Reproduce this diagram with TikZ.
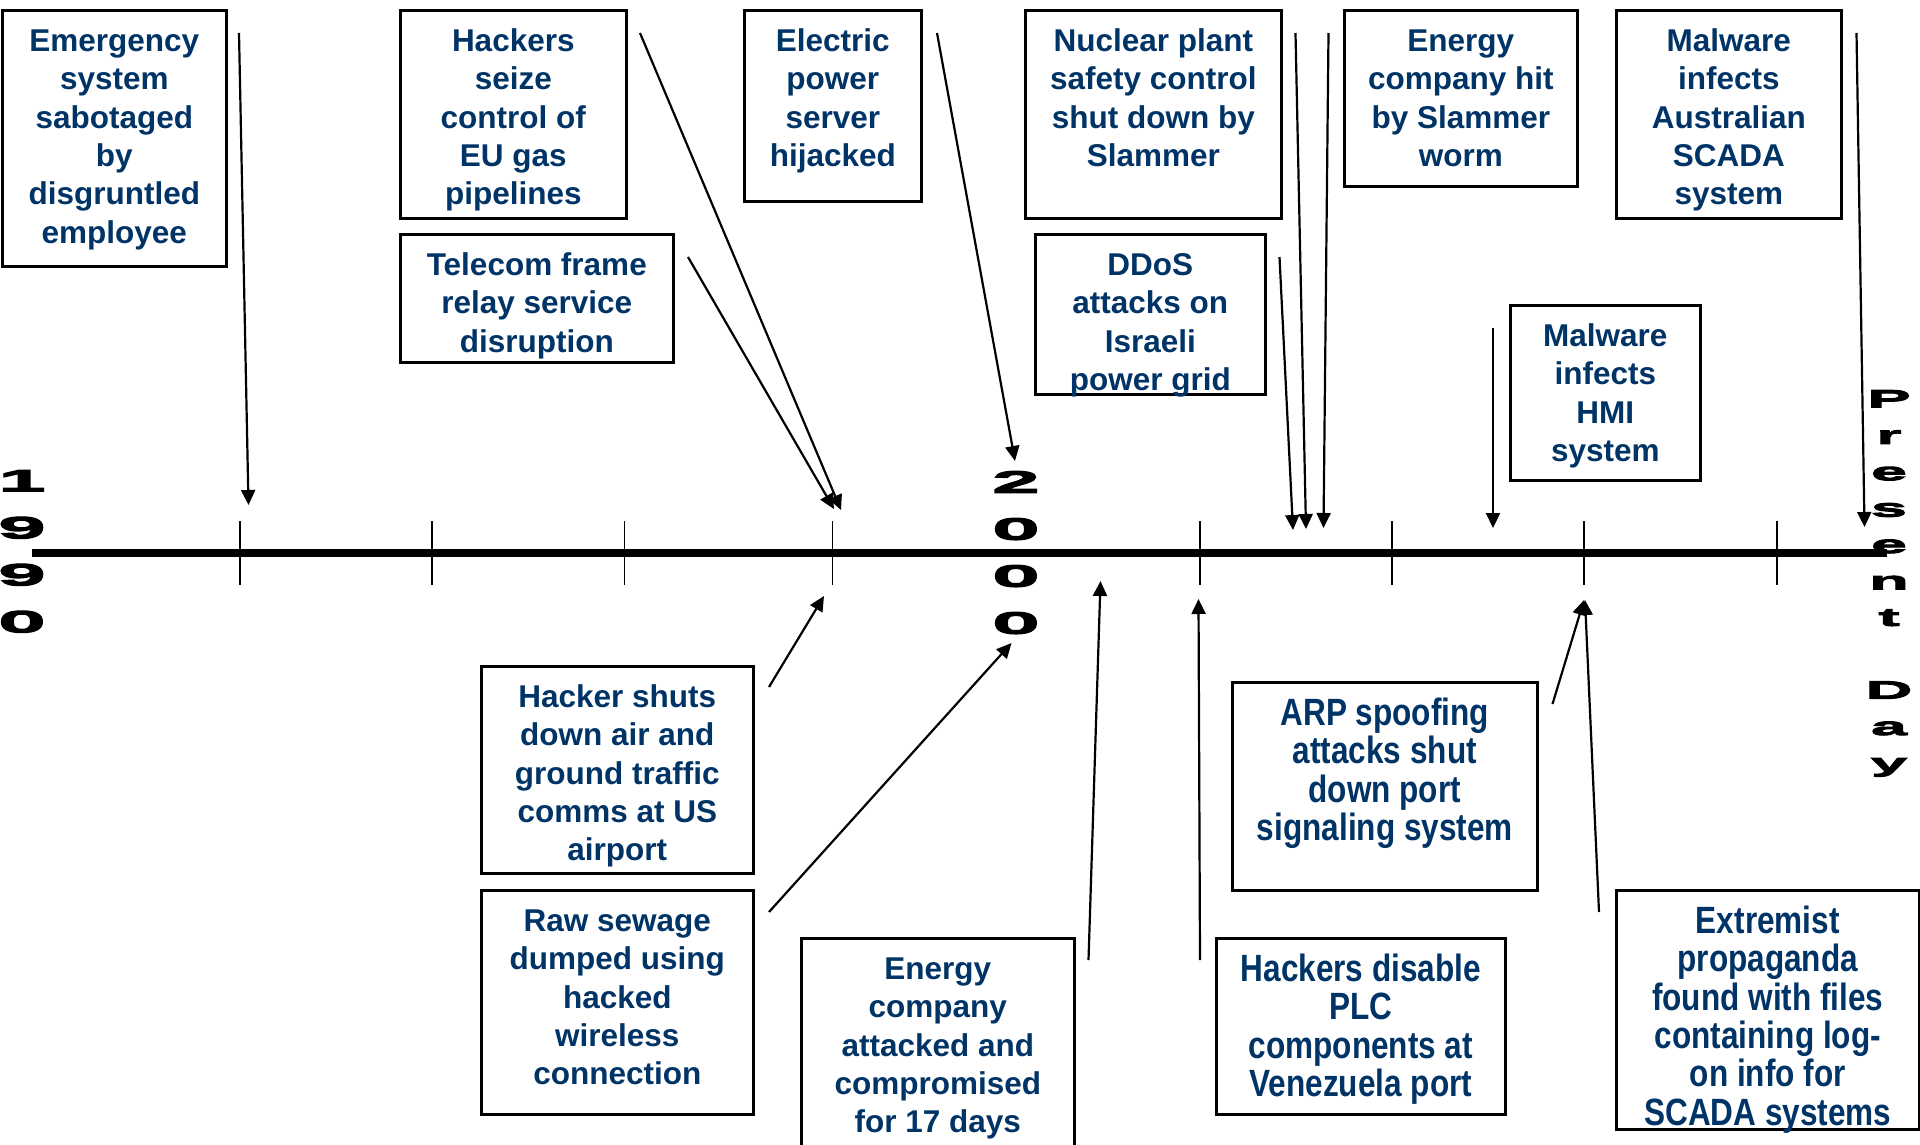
\documentclass[tikz,border=0pt]{standalone}
\usepackage{fontspec}
\setmainfont{Liberation Sans}
\newfontfamily\condfam[FakeStretch=0.83]{Liberation Sans}
\newfontfamily\yearfam[FakeStretch=2.8,FakeBold=4]{Liberation Sans Bold}
\newfontfamily\dayfam[FakeStretch=2.6,FakeBold=4]{Liberation Sans Bold}
\usetikzlibrary{arrows.meta}
\definecolor{evblue}{RGB}{0,51,102}
\newlength\evpad
\newcommand\evfont{\fontsize{31.5}{38.4}\selectfont\bfseries\setlength\evpad{41pt}}
\newcommand\cevfont{\condfam\fontsize{38}{38.4}\selectfont\bfseries\setlength\evpad{43pt}}
\newcommand\yearfont{\yearfam\fontsize{30.7}{47}\selectfont}
\newcommand\dayfont{\dayfam\fontsize{25}{36.4}\selectfont}
\newcommand\evbox[3]{\parbox[c][#2][t]{#1}{\centering\rule{0pt}{\evpad}#3}}

\begin{document}
\begin{tikzpicture}[x=1pt, y=-1pt,
        evt/.style={draw=black, line width=2.6pt, inner sep=0pt, anchor=north west, text=evblue, font=\evfont},
        cevt/.style={evt, font=\cevfont},
        arr/.style={line width=2.2pt, -{Triangle[length=15pt, width=14pt]}},
        tickmark/.style={line width=1.5pt},
        axisline/.style={line width=7.5pt},
        yearlbl/.style={align=center, inner sep=0pt, anchor=north, font=\yearfont},
        daylbl/.style={align=center, inner sep=0pt, anchor=north, font=\dayfont}]
                \fill[white] (0,0) rectangle (1920,1145);
                \useasboundingbox (0,0) rectangle (1920,1145);

                % Time line
                \coordinate (ax0) at (32,553);
                \coordinate (ax1) at (1887,553);
                \draw[axisline] (ax0) -- (ax1);
                \foreach \x in {240,432,624.5,832.5,1200,1392,1584,1777}
                    \draw[tickmark] (\x,521) -- (\x,585);

                \node[yearlbl] (y1990) at (22,470)   {1\\9\\9\\0};
                \node[yearlbl] (y2000) at (1016,471) {2\\0\\0\\0};
                \node[daylbl]  (pday)  at (1889,390) {P\\r\\e\\s\\e\\n\\t\\[36.4pt]D\\a\\y};

                % Nodes above the line
                \node[evt] (emerg)  at (1,9)     {\evbox{224pt}{256pt}{Emergency\\system\\sabotaged\\by\\disgruntled\\employee}};
                \node[evt] (seize)  at (399,9)   {\evbox{226pt}{208pt}{Hackers\\seize\\control of\\EU gas\\pipelines}};
                \node[evt] (telco)  at (399,233) {\evbox{273pt}{128pt}{Telecom frame\\relay service\\disruption}};
                \node[evt] (elec)   at (743,9)   {\evbox{177pt}{191pt}{Electric\\power\\server\\hijacked}};
                \node[evt] (nucl)   at (1024,9)  {\evbox{256pt}{208pt}{Nuclear plant\\safety control\\shut down by\\Slammer}};
                \node[evt] (ddos)   at (1034,233) {\evbox{230pt}{160pt}{DDoS\\attacks on\\Israeli\\power grid}};
                \node[evt] (enhit)  at (1343,9)  {\evbox{233pt}{176pt}{Energy\\company hit\\by Slammer\\worm}};
                \node[evt] (austr)  at (1615,9)  {\evbox{225pt}{208pt}{Malware\\infects\\Australian\\SCADA\\system}};
                \node[evt] (hmi)    at (1509,304) {\evbox{190pt}{175pt}{Malware\\infects\\HMI\\system}};

                % Nodes below the line
                \node[evt]  (airp)   at (480,665)  {\evbox{272pt}{207pt}{Hacker shuts\\down air and\\ground traffic\\comms at US\\airport}};
                \node[evt]  (sewage) at (480,889)  {\evbox{272pt}{224pt}{Raw sewage\\dumped using\\hacked\\wireless\\connection}};
                \node[evt]  (enatt)  at (800,937)  {\evbox{273pt}{215pt}{Energy\\company\\attacked and\\compromised\\for 17 days}};
                \node[cevt] (arp)    at (1231,681) {\evbox{305pt}{208pt}{ARP spoofing\\attacks shut\\down port\\signaling system}};
                \node[cevt] (plc)    at (1215,937) {\evbox{289pt}{176pt}{Hackers disable\\PLC\\components at\\Venezuela port}};
                \node[cevt] (extrem) at (1615,889) {\evbox{303pt}{239pt}{Extremist\\propaganda\\found with files\\containing log-\\on info for\\SCADA systems}};

                % Arrow ends
                \coordinate (s1) at (239,33);      \coordinate (t1) at (248.5,505);
                \coordinate (s2) at (640,33);      \coordinate (t2) at (841,510);
                \coordinate (s3) at (688,257);     \coordinate (t3) at (834,509);
                \coordinate (s4) at (937,33);      \coordinate (t4) at (1015,461);
                \coordinate (s5) at (1295.5,33);   \coordinate (t5) at (1306,529);
                \coordinate (s6) at (1328.5,33);   \coordinate (t6) at (1323.5,528);
                \coordinate (s7) at (1279.5,257);  \coordinate (t7) at (1293,530);
                \coordinate (s8) at (1493,328);    \coordinate (t8) at (1493,528);
                \coordinate (s9) at (1856.5,33);   \coordinate (t9) at (1864.5,527);
                \coordinate (s10) at (769,687);    \coordinate (t10) at (824,596);
                \coordinate (s11) at (769,912);    \coordinate (t11) at (1011.5,643);
                \coordinate (s12) at (1088.5,960); \coordinate (t12) at (1100.5,581);
                \coordinate (s13) at (1200,960);   \coordinate (t13) at (1198.5,599);
                \coordinate (s14) at (1552.5,704); \coordinate (t14) at (1584,600);
                \coordinate (s15) at (1599,912);   \coordinate (t15) at (1585,600);

                \draw[arr] (s1) -- (t1);
                \draw[arr] (s2) -- (t2);
                \draw[arr] (s3) -- (t3);
                \draw[arr] (s4) -- (t4);
                \draw[arr] (s5) -- (t5);
                \draw[arr] (s6) -- (t6);
                \draw[arr] (s7) -- (t7);
                \draw[arr] (s8) -- (t8);
                \draw[arr] (s9) -- (t9);

                \draw[arr] (s10) -- (t10);
                \draw[arr] (s11) -- (t11);
                \draw[arr] (s12) -- (t12);
                \draw[arr] (s13) -- (t13);
                \draw[arr] (s14) -- (t14);
                \draw[arr] (s15) -- (t15);
\end{tikzpicture}
\end{document}
